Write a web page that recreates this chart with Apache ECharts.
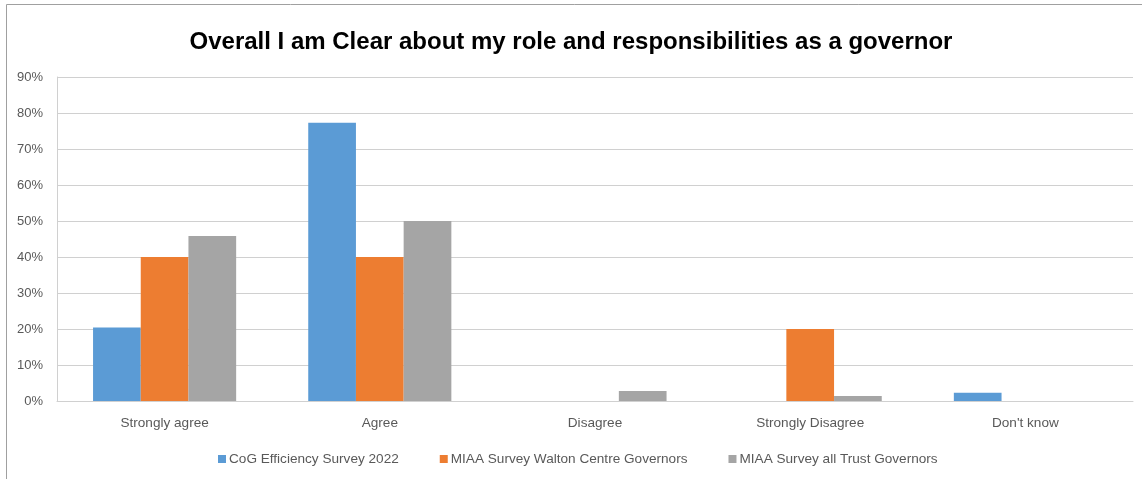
<!DOCTYPE html>
<html>
<head>
<meta charset="utf-8">
<script src="https://cdn.jsdelivr.net/npm/echarts@6/dist/echarts.min.js"></script>
<style>
  html, body { margin: 0; padding: 0; background: #ffffff; }
  #chart { width: 1142px; height: 479px; }
</style>
</head>
<body>
<div id="chart"></div>
<script>
// Survey answers, percentage of respondents per response
const categories = ['Strongly agree', 'Agree', 'Disagree', 'Strongly Disagree', "Don't know"];
const cogEfficiency2022 = [20.45, 77.27, 0, 0, 2.27];
const miaaWaltonCentre = [40, 40, 0, 20, 0];
const miaaAllTrusts = [45.83, 50, 2.78, 1.39, 0];
const seriesNames = [
  'CoG Efficiency Survey 2022',
  'MIAA Survey Walton Centre Governors',
  'MIAA Survey all Trust Governors'
];
const titleText = 'Overall I am Clear about my role and responsibilities as a governor';

const colors = ['#5B9BD5', '#ED7D31', '#A5A5A5'];
const labelFont = '"Liberation Sans", Arial, sans-serif';
const labelColor = '#595959';

const chart = echarts.init(document.getElementById('chart'), null, { renderer: 'canvas' });

const bar = (name, data, color) => ({
  name: name,
  type: 'bar',
  data: data,
  barGap: '0%',
  barCategoryGap: '33.5%',
  itemStyle: { color: color },
  emphasis: { disabled: true }
});

chart.setOption({
  animation: false,
  backgroundColor: '#ffffff',
  color: colors,
  graphic: [{
    type: 'rect',
    shape: { x: 6.5, y: 4.5, width: 1200, height: 600 },
    style: { fill: 'none', stroke: '#a0a0a0', lineWidth: 1 },
    silent: true
  }],
  title: {
    text: titleText,
    left: 'center',
    top: 25,
    textStyle: {
      fontFamily: labelFont,
      fontWeight: 'bold',
      fontSize: 24,
      color: '#000000'
    }
  },
  legend: {
    data: seriesNames,
    left: 213,
    top: 447,
    itemWidth: 8,
    itemHeight: 8,
    itemGap: 41,
    icon: 'rect',
    textStyle: { fontFamily: labelFont, fontSize: 13.6, color: labelColor, padding: [0, 0, 0, -2] }
  },
  grid: { left: 57, right: 9, top: 77, bottom: 78, containLabel: false },
  xAxis: {
    type: 'category',
    data: categories,
    axisLine: { show: true, lineStyle: { color: '#d0d0d0', width: 1 } },
    axisTick: { show: false },
    axisLabel: { fontFamily: labelFont, fontSize: 13.6, color: labelColor, margin: 15 }
  },
  yAxis: {
    type: 'value',
    min: 0,
    max: 90,
    interval: 10,
    axisLine: { show: true, lineStyle: { color: '#d0d0d0', width: 1 } },
    axisTick: { show: false },
    splitLine: { show: true, lineStyle: { color: '#d0d0d0', width: 1 } },
    axisLabel: { formatter: '{value}%', fontFamily: labelFont, fontSize: 13, color: labelColor, margin: 14 }
  },
  series: [
    bar(seriesNames[0], cogEfficiency2022, colors[0]),
    bar(seriesNames[1], miaaWaltonCentre, colors[1]),
    bar(seriesNames[2], miaaAllTrusts, colors[2])
  ]
});
</script>
</body>
</html>
